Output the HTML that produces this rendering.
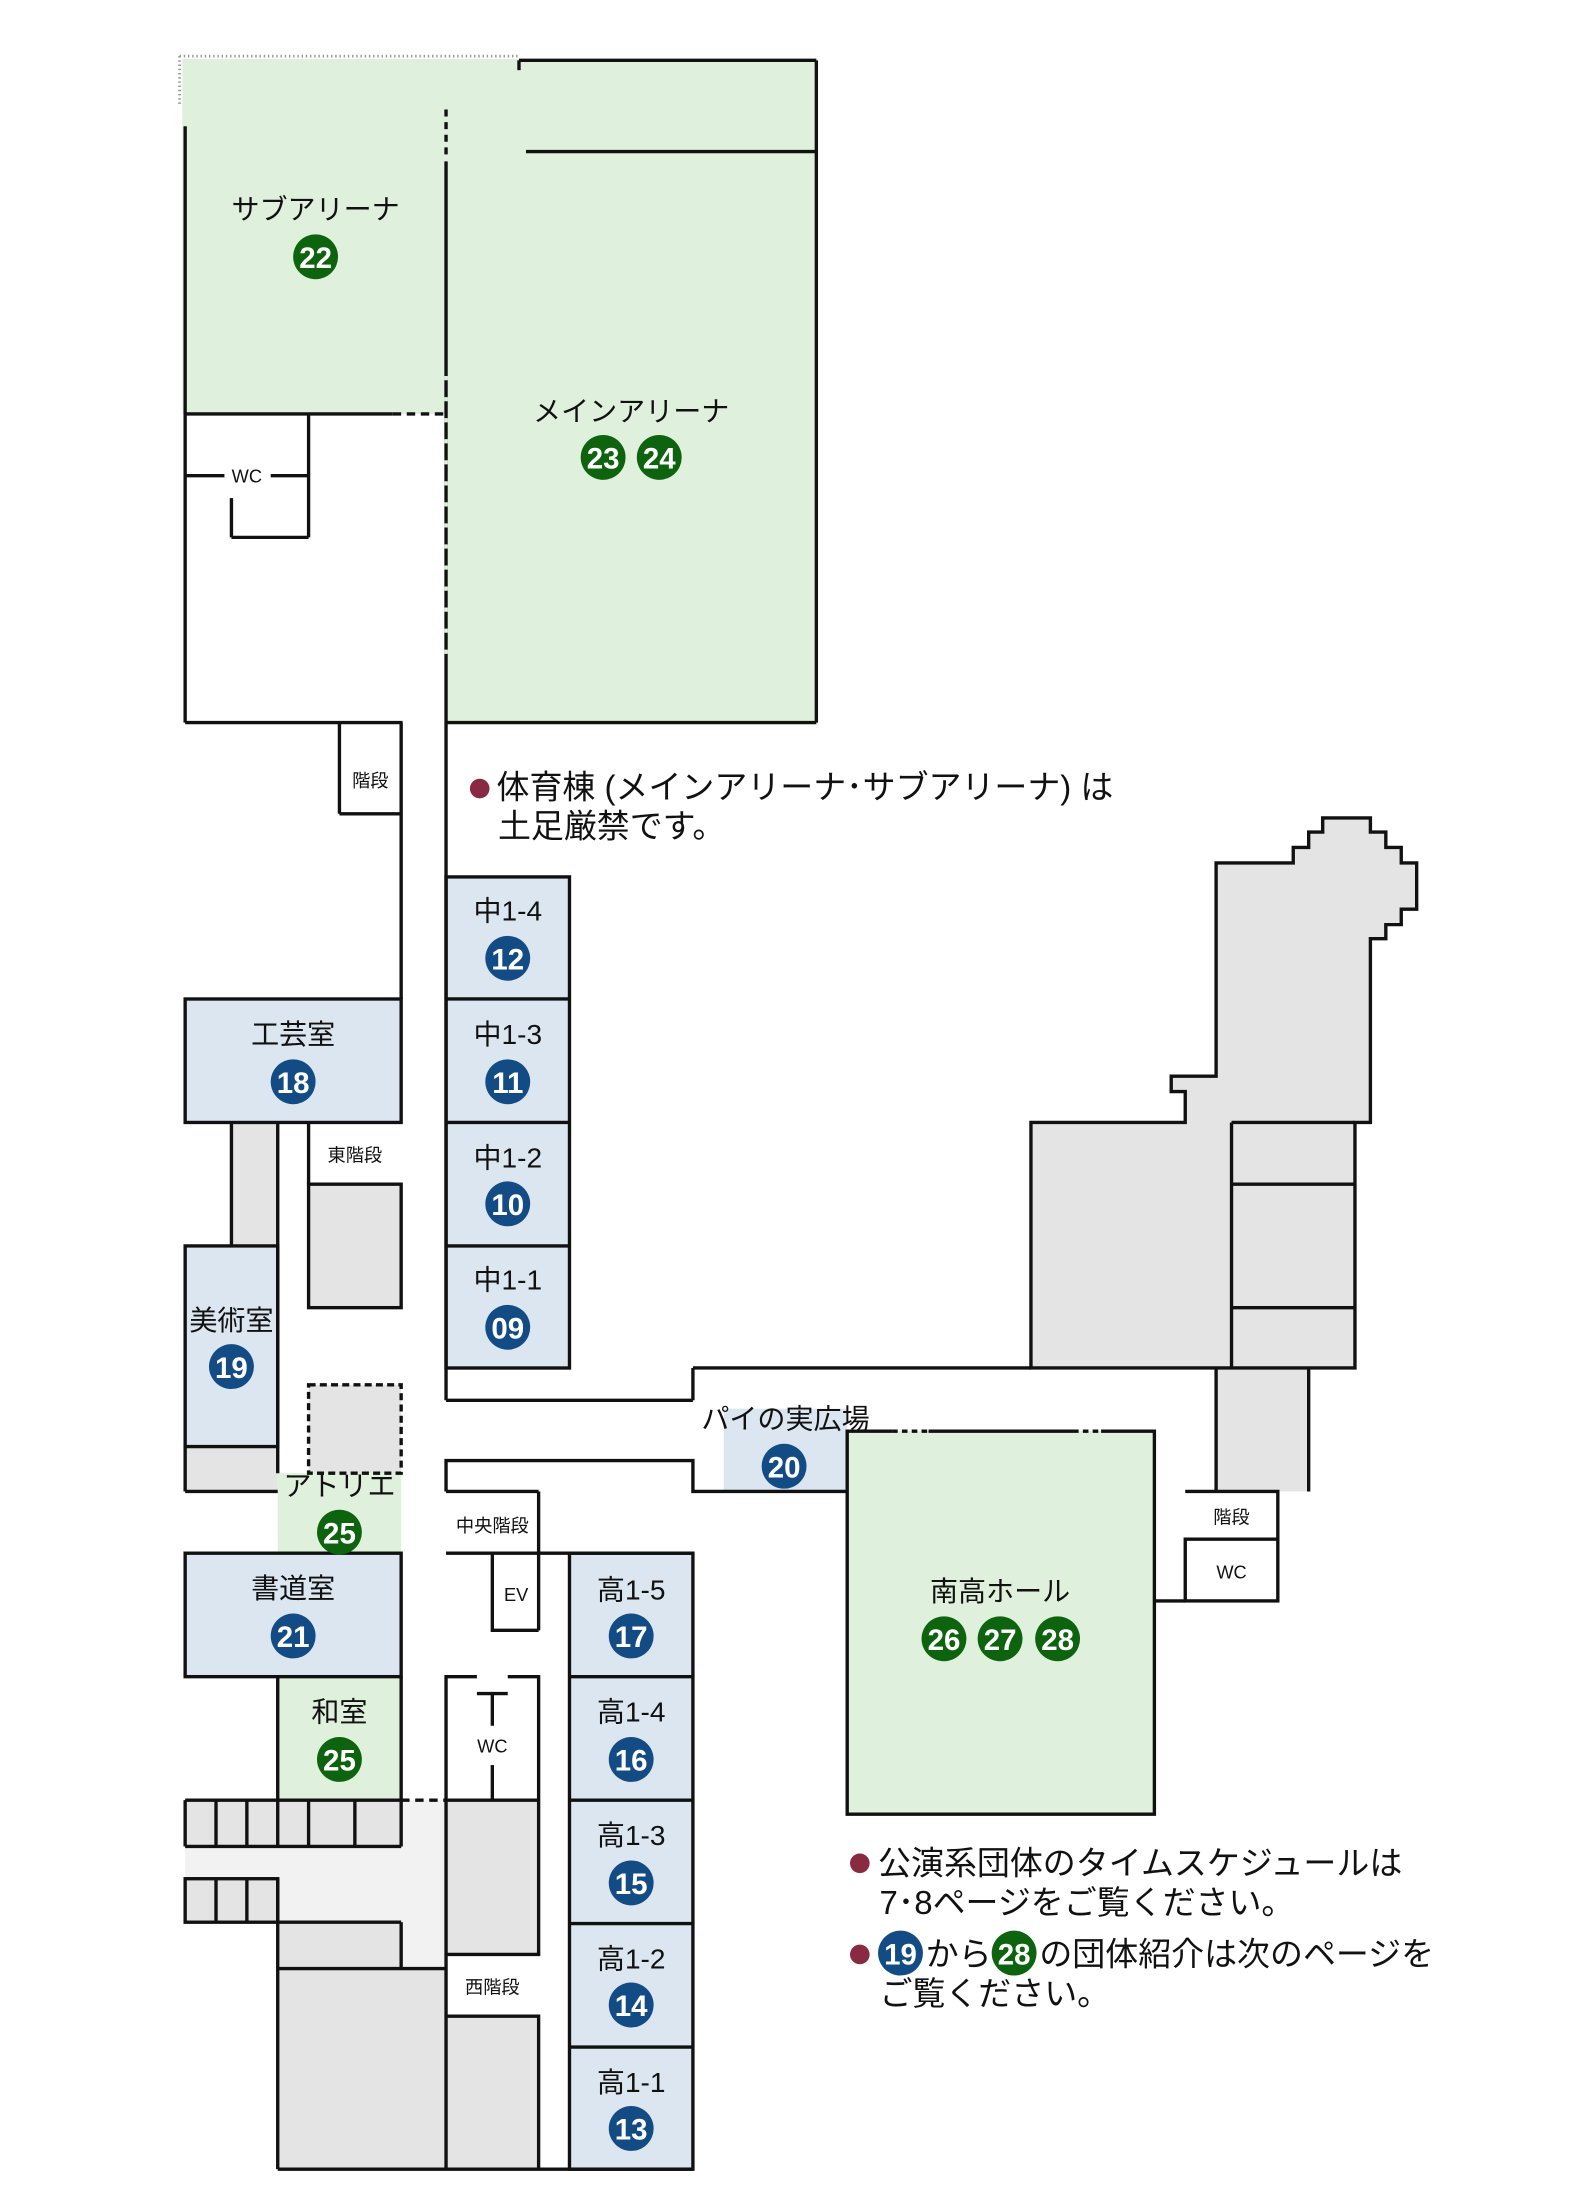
<!DOCTYPE html>
<html><head><meta charset="utf-8"><style>
html,body{margin:0;padding:0;background:#fff}
svg{display:block}
text{font-family:"Liberation Sans","Noto Sans CJK JP",sans-serif}
</style></head><body>
<svg width="1585" height="2193" viewBox="0 0 1130 1563" preserveAspectRatio="none" xmlns="http://www.w3.org/2000/svg">
<g stroke="none">
<polygon points="130,42 582,42 582,515 318,515 318,295 130,295" fill="#dff0dc"/>
<rect x="318" y="625" width="88" height="350" fill="#dce6f1"/>
<rect x="132" y="712" width="154" height="88" fill="#dce6f1"/>
<rect x="132" y="888" width="66" height="143" fill="#dce6f1"/>
<rect x="132" y="1107" width="154" height="88" fill="#dce6f1"/>
<rect x="406" y="1107" width="88" height="439" fill="#dce6f1"/>
<rect x="516" y="1004" width="88" height="59" fill="#dce6f1"/>
<rect x="198" y="1050" width="88" height="57" fill="#dff0dc"/>
<rect x="198" y="1195" width="88" height="88" fill="#dff0dc"/>
<rect x="604" y="1020" width="219" height="273" fill="#dff0dc"/>
<polygon points="132,1316 286,1316 286,1283 318,1283 318,1403 286,1403 286,1370 198,1370 198,1339 132,1339" fill="#f2f2f2"/>
<g fill="#e4e4e4">
<rect x="165" y="800" width="33" height="88"/>
<rect x="220" y="844" width="66" height="88"/>
<rect x="132" y="1031" width="66" height="32"/>
<rect x="220" y="987" width="66" height="63"/>
<rect x="132" y="1283" width="154" height="33"/>
<rect x="132" y="1339" width="66" height="31"/>
<rect x="198" y="1370" width="88" height="33"/>
<rect x="198" y="1403" width="120" height="143"/>
<rect x="318" y="1283" width="66" height="110"/>
<rect x="318" y="1437" width="66" height="109"/>
<rect x="867" y="975" width="66" height="88"/>
<polygon points="867,615 922,615 922,604 933,604 933,593 943,593 943,583 977,583 977,593 988,593 988,604 999,604 999,615 1010,615 1010,648 999,648 999,659 988,659 988,669 977,669 977,800 966,800 966,975 735,975 735,800 845,800 845,778 835,778 835,767 867,767"/>
</g>
</g>

<g fill="none" stroke="#111" stroke-width="2.4">
<line x1="370" y1="43" x2="582" y2="43"/>
<line x1="370" y1="43" x2="370" y2="50"/>
<line x1="375" y1="108" x2="582" y2="108"/>
<line x1="582" y1="43" x2="582" y2="515"/>
<line x1="132" y1="90" x2="132" y2="515"/>
<line x1="318" y1="115" x2="318" y2="998"/>
<line x1="318" y1="78" x2="318" y2="110" stroke-dasharray="5,4"/>
<line x1="318" y1="268" x2="318" y2="470" stroke="#dff0dc" stroke-width="2.6" stroke-dasharray="3,12"/>
<line x1="132" y1="295" x2="280" y2="295"/>
<line x1="280" y1="295" x2="318" y2="295" stroke-dasharray="6,4"/>
<line x1="220" y1="295" x2="220" y2="383"/>
<line x1="165" y1="383" x2="220" y2="383"/>
<line x1="165" y1="355" x2="165" y2="383"/>
<line x1="132" y1="339" x2="160" y2="339"/>
<line x1="193" y1="339" x2="220" y2="339"/>
<line x1="132" y1="515" x2="287" y2="515"/>
<line x1="318" y1="515" x2="582" y2="515"/>
<line x1="242" y1="515" x2="242" y2="580"/>
<line x1="242" y1="580" x2="287" y2="580"/>
<line x1="286" y1="515" x2="286" y2="712"/>
<rect x="318" y="625" width="88" height="350"/>
<line x1="318" y1="712" x2="406" y2="712"/>
<line x1="318" y1="800" x2="406" y2="800"/>
<line x1="318" y1="888" x2="406" y2="888"/>
<line x1="318" y1="998" x2="494" y2="998"/>
<line x1="494" y1="975" x2="494" y2="998"/>
<line x1="494" y1="975" x2="735" y2="975"/>
<rect x="132" y="712" width="154" height="88"/>
<line x1="165" y1="800" x2="165" y2="888"/>
<line x1="198" y1="800" x2="198" y2="1050"/>
<line x1="220" y1="800" x2="220" y2="844"/>
<rect x="220" y="844" width="66" height="88"/>
<rect x="132" y="888" width="66" height="143"/>
<line x1="132" y1="1031" x2="132" y2="1063"/>
<line x1="132" y1="1063" x2="198" y2="1063"/>
<rect x="220" y="987" width="66" height="63" stroke-dasharray="5,3"/>
<rect x="132" y="1107" width="154" height="88"/>
<line x1="198" y1="1195" x2="198" y2="1283"/>
<line x1="286" y1="1195" x2="286" y2="1316"/>
<line x1="286" y1="1283" x2="318" y2="1283" stroke-dasharray="6,4"/>
<line x1="132" y1="1283" x2="286" y2="1283"/>
<line x1="132" y1="1316" x2="286" y2="1316"/>
<line x1="132" y1="1283" x2="132" y2="1316"/>
<line x1="154" y1="1283" x2="154" y2="1316"/>
<line x1="176" y1="1283" x2="176" y2="1316"/>
<line x1="198" y1="1283" x2="198" y2="1316"/>
<line x1="220" y1="1283" x2="220" y2="1316"/>
<line x1="253" y1="1283" x2="253" y2="1316"/>
<rect x="132" y="1339" width="66" height="31"/>
<line x1="154" y1="1339" x2="154" y2="1370"/>
<line x1="176" y1="1339" x2="176" y2="1370"/>
<line x1="198" y1="1339" x2="198" y2="1546"/>
<line x1="198" y1="1370" x2="286" y2="1370"/>
<line x1="286" y1="1370" x2="286" y2="1403"/>
<line x1="198" y1="1403" x2="318" y2="1403"/>
<line x1="198" y1="1546" x2="494" y2="1546"/>
<polyline points="318,1063 318,1041 494,1041 494,1063 604,1063"/>
<line x1="318" y1="1063" x2="384" y2="1063"/>
<line x1="384" y1="1063" x2="384" y2="1162"/>
<line x1="318" y1="1107" x2="494" y2="1107"/>
<polyline points="351,1107 351,1162 384,1162"/>
<polyline points="340,1195 318,1195 318,1546"/>
<polyline points="362,1195 384,1195 384,1393 318,1393"/>
<line x1="340" y1="1207" x2="362" y2="1207"/>
<line x1="351" y1="1207" x2="351" y2="1230"/>
<line x1="351" y1="1258" x2="351" y2="1283"/>
<line x1="318" y1="1283" x2="384" y2="1283"/>
<polyline points="318,1437 384,1437 384,1546"/>
<rect x="406" y="1107" width="88" height="439"/>
<line x1="406" y1="1195" x2="494" y2="1195"/>
<line x1="406" y1="1283" x2="494" y2="1283"/>
<line x1="406" y1="1371" x2="494" y2="1371"/>
<line x1="406" y1="1459" x2="494" y2="1459"/>
<polyline points="636,1020 604,1020 604,1293 823,1293 823,1020 785,1020"/>
<line x1="662" y1="1020" x2="765" y2="1020"/>
<line x1="636" y1="1020" x2="662" y2="1020" stroke-dasharray="4,3"/>
<line x1="765" y1="1020" x2="785" y2="1020" stroke-dasharray="4,3"/>
<line x1="823" y1="1141" x2="845" y2="1141"/>
<rect x="845" y="1097" width="66" height="44"/>
<polyline points="845,1063 911,1063 911,1097"/>
<polyline points="867,1063 867,975"/>
<polyline points="933,975 933,1063"/>
<polygon points="867,615 922,615 922,604 933,604 933,593 943,593 943,583 977,583 977,593 988,593 988,604 999,604 999,615 1010,615 1010,648 999,648 999,659 988,659 988,669 977,669 977,800 966,800 966,975 735,975 735,800 845,800 845,778 835,778 835,767 867,767 867,615"/>
<line x1="878" y1="800" x2="878" y2="975"/>
<line x1="878" y1="800" x2="966" y2="800"/>
<line x1="878" y1="844" x2="966" y2="844"/>
<line x1="878" y1="932" x2="966" y2="932"/>
</g>
<line x1="128" y1="40" x2="370" y2="40" stroke="#999" stroke-width="2" stroke-dasharray="1,2"/>
<line x1="128" y1="40" x2="128" y2="75" stroke="#999" stroke-width="2" stroke-dasharray="1,2"/>

<g fill="#111" text-anchor="middle" font-size="20">
<text x="225" y="156">サブアリーナ</text>
<text x="450" y="300">メインアリーナ</text>
<text x="362" y="656">中1-4</text>
<text x="362" y="744">中1-3</text>
<text x="362" y="832">中1-2</text>
<text x="362" y="919">中1-1</text>
<text x="209" y="744">工芸室</text>
<text x="165" y="948">美術室</text>
<text x="242" y="1066">アトリエ</text>
<text x="209" y="1139">書道室</text>
<text x="242" y="1227">和室</text>
<text x="450" y="1140">高1-5</text>
<text x="450" y="1227">高1-4</text>
<text x="450" y="1315">高1-3</text>
<text x="450" y="1403">高1-2</text>
<text x="450" y="1491">高1-1</text>
<text x="560" y="1018">パイの実広場</text>
<text x="713" y="1141">南高ホール</text>
</g>
<g fill="#111" text-anchor="middle" font-size="13">
<text x="176" y="344">WC</text>
<text x="264" y="561">階段</text>
<text x="253" y="828">東階段</text>
<text x="351" y="1092">中央階段</text>
<text x="368" y="1141">EV</text>
<text x="351" y="1249">WC</text>
<text x="351" y="1421">西階段</text>
<text x="878" y="1086">階段</text>
<text x="878" y="1125">WC</text>
</g>

<g font-size="21" font-weight="bold" text-anchor="middle" fill="#fff">
<g fill="#0e640e"><circle cx="225" cy="183" r="16"/><circle cx="430" cy="326" r="16"/><circle cx="470" cy="326" r="16"/><circle cx="242" cy="1092" r="16"/><circle cx="242" cy="1254" r="16"/><circle cx="673" cy="1168" r="16"/><circle cx="713" cy="1168" r="16"/><circle cx="754" cy="1168" r="16"/><circle cx="723" cy="1392" r="16"/></g>
<g fill="#134c85"><circle cx="362" cy="683" r="16"/><circle cx="362" cy="771" r="16"/><circle cx="362" cy="858" r="16"/><circle cx="362" cy="946" r="16"/><circle cx="209" cy="771" r="16"/><circle cx="165" cy="974" r="16"/><circle cx="209" cy="1166" r="16"/><circle cx="450" cy="1166" r="16"/><circle cx="450" cy="1254" r="16"/><circle cx="450" cy="1342" r="16"/><circle cx="450" cy="1429" r="16"/><circle cx="450" cy="1517" r="16"/><circle cx="559" cy="1045" r="16"/><circle cx="642" cy="1392" r="16"/></g>
<text x="225" y="191">22</text><text x="430" y="334">23</text><text x="470" y="334">24</text>
<text x="242" y="1100">25</text><text x="242" y="1262">25</text>
<text x="673" y="1176">26</text><text x="713" y="1176">27</text><text x="754" y="1176">28</text>
<text x="362" y="691">12</text><text x="362" y="779">11</text><text x="362" y="866">10</text><text x="362" y="954">09</text>
<text x="209" y="779">18</text><text x="165" y="982">19</text><text x="209" y="1174">21</text>
<text x="450" y="1174">17</text><text x="450" y="1262">16</text><text x="450" y="1350">15</text><text x="450" y="1437">14</text><text x="450" y="1525">13</text>
<text x="559" y="1053">20</text>
<text x="642" y="1400">19</text><text x="723" y="1400">28</text>
</g>

<g font-size="23.5" fill="#111">
<circle cx="342" cy="562" r="7" fill="#8a2a42"/>
<text x="354" y="569">体育棟 (メインアリーナ･サブアリーナ) は</text>
<text x="355" y="597">土足厳禁です。</text>
<circle cx="613" cy="1328" r="7" fill="#8a2a42"/>
<text x="626" y="1336">公演系団体のタイムスケジュールは</text>
<text x="627" y="1364">7･8ページをご覧ください。</text>
<circle cx="613" cy="1393" r="7" fill="#8a2a42"/>
<text x="660" y="1401">から</text>
<text x="741" y="1401">の団体紹介は次のページを</text>
<text x="627" y="1429">ご覧ください。</text>
</g>
</svg>
</body></html>
